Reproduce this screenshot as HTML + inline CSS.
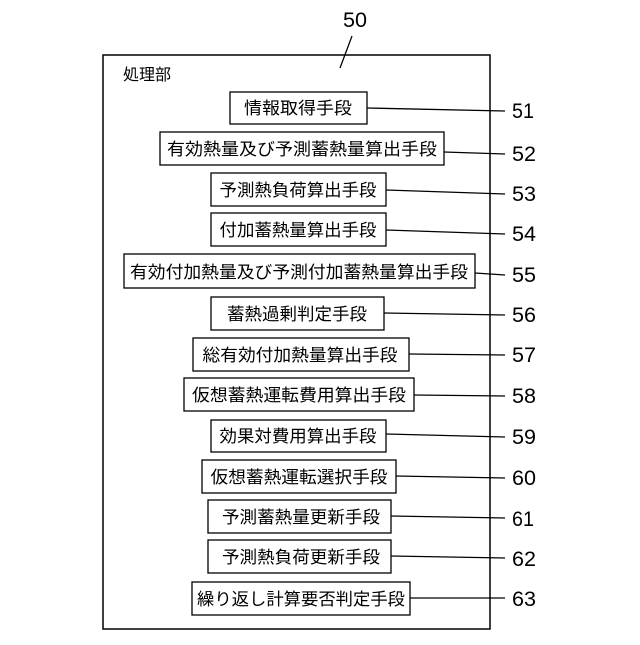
<!DOCTYPE html>
<html><head><meta charset="utf-8"><style>html,body{margin:0;padding:0;background:#fff}</style></head>
<body>
<svg width="640" height="640" viewBox="0 0 640 640" xmlns="http://www.w3.org/2000/svg" font-family="'Liberation Sans','Noto Sans CJK JP',sans-serif">
<rect x="103" y="55" width="387" height="574" fill="none" stroke="#000" stroke-width="1.5"/>
<text x="343" y="27" font-size="21" textLength="24" lengthAdjust="spacingAndGlyphs">50</text>
<line x1="340" y1="68" x2="352" y2="36" stroke="#000" stroke-width="1.3"/>
<text x="123" y="80" font-size="16">処理部</text>
<g fill="none" stroke="#000" stroke-width="1.3">
<rect x="230" y="92" width="137" height="32"/>
<rect x="160" y="132" width="284" height="33"/>
<rect x="211" y="173" width="175" height="33"/>
<rect x="211" y="213" width="175" height="33"/>
<rect x="124" y="254" width="351" height="34"/>
<rect x="211" y="297" width="173" height="33"/>
<rect x="193" y="338" width="216" height="33"/>
<rect x="184" y="378" width="230" height="33"/>
<rect x="211" y="420" width="175" height="32"/>
<rect x="202" y="460" width="194" height="33"/>
<rect x="208" y="500" width="183" height="33"/>
<rect x="208" y="540" width="183" height="33"/>
<rect x="192" y="582" width="218" height="33"/>
<line x1="367" y1="108" x2="505" y2="111"/>
<line x1="444" y1="152" x2="505" y2="154"/>
<line x1="386" y1="190" x2="505" y2="194"/>
<line x1="386" y1="230" x2="505" y2="234"/>
<line x1="475" y1="273" x2="505" y2="275"/>
<line x1="384" y1="313" x2="505" y2="315"/>
<line x1="409" y1="354" x2="505" y2="355"/>
<line x1="414" y1="395" x2="505" y2="396"/>
<line x1="386" y1="434" x2="505" y2="437"/>
<line x1="396" y1="476" x2="505" y2="478"/>
<line x1="391" y1="516" x2="505" y2="518"/>
<line x1="391" y1="556" x2="505" y2="558"/>
<line x1="410" y1="598" x2="505" y2="598"/>
</g>
<g font-size="17" text-anchor="middle">
<text x="298" y="114" textLength="108" lengthAdjust="spacingAndGlyphs">情報取得手段</text>
<text x="302" y="155" textLength="270" lengthAdjust="spacingAndGlyphs">有効熱量及び予測蓄熱量算出手段</text>
<text x="298" y="196" textLength="157" lengthAdjust="spacingAndGlyphs">予測熱負荷算出手段</text>
<text x="298" y="236" textLength="157" lengthAdjust="spacingAndGlyphs">付加蓄熱量算出手段</text>
<text x="299" y="278" textLength="338" lengthAdjust="spacingAndGlyphs">有効付加熱量及び予測付加蓄熱量算出手段</text>
<text x="297" y="320" textLength="140" lengthAdjust="spacingAndGlyphs">蓄熱過剰判定手段</text>
<text x="300" y="361" textLength="195" lengthAdjust="spacingAndGlyphs">総有効付加熱量算出手段</text>
<text x="299" y="401" textLength="214" lengthAdjust="spacingAndGlyphs">仮想蓄熱運転費用算出手段</text>
<text x="298" y="442" textLength="157" lengthAdjust="spacingAndGlyphs">効果対費用算出手段</text>
<text x="299" y="483" textLength="177" lengthAdjust="spacingAndGlyphs">仮想蓄熱運転選択手段</text>
<text x="301" y="523" textLength="158" lengthAdjust="spacingAndGlyphs">予測蓄熱量更新手段</text>
<text x="301" y="563" textLength="158" lengthAdjust="spacingAndGlyphs">予測熱負荷更新手段</text>
<text x="301" y="605" textLength="208" lengthAdjust="spacingAndGlyphs">繰り返し計算要否判定手段</text>
</g>
<g font-size="21">
<text x="512" y="118" textLength="22" lengthAdjust="spacingAndGlyphs">51</text>
<text x="512" y="161" textLength="24" lengthAdjust="spacingAndGlyphs">52</text>
<text x="512" y="201" textLength="24" lengthAdjust="spacingAndGlyphs">53</text>
<text x="512" y="241" textLength="24" lengthAdjust="spacingAndGlyphs">54</text>
<text x="512" y="282" textLength="24" lengthAdjust="spacingAndGlyphs">55</text>
<text x="512" y="322" textLength="24" lengthAdjust="spacingAndGlyphs">56</text>
<text x="512" y="362" textLength="24" lengthAdjust="spacingAndGlyphs">57</text>
<text x="512" y="403" textLength="24" lengthAdjust="spacingAndGlyphs">58</text>
<text x="512" y="444" textLength="24" lengthAdjust="spacingAndGlyphs">59</text>
<text x="512" y="485" textLength="24" lengthAdjust="spacingAndGlyphs">60</text>
<text x="512" y="526" textLength="22" lengthAdjust="spacingAndGlyphs">61</text>
<text x="512" y="566" textLength="24" lengthAdjust="spacingAndGlyphs">62</text>
<text x="512" y="606" textLength="24" lengthAdjust="spacingAndGlyphs">63</text>
</g>
</svg>
</body></html>
